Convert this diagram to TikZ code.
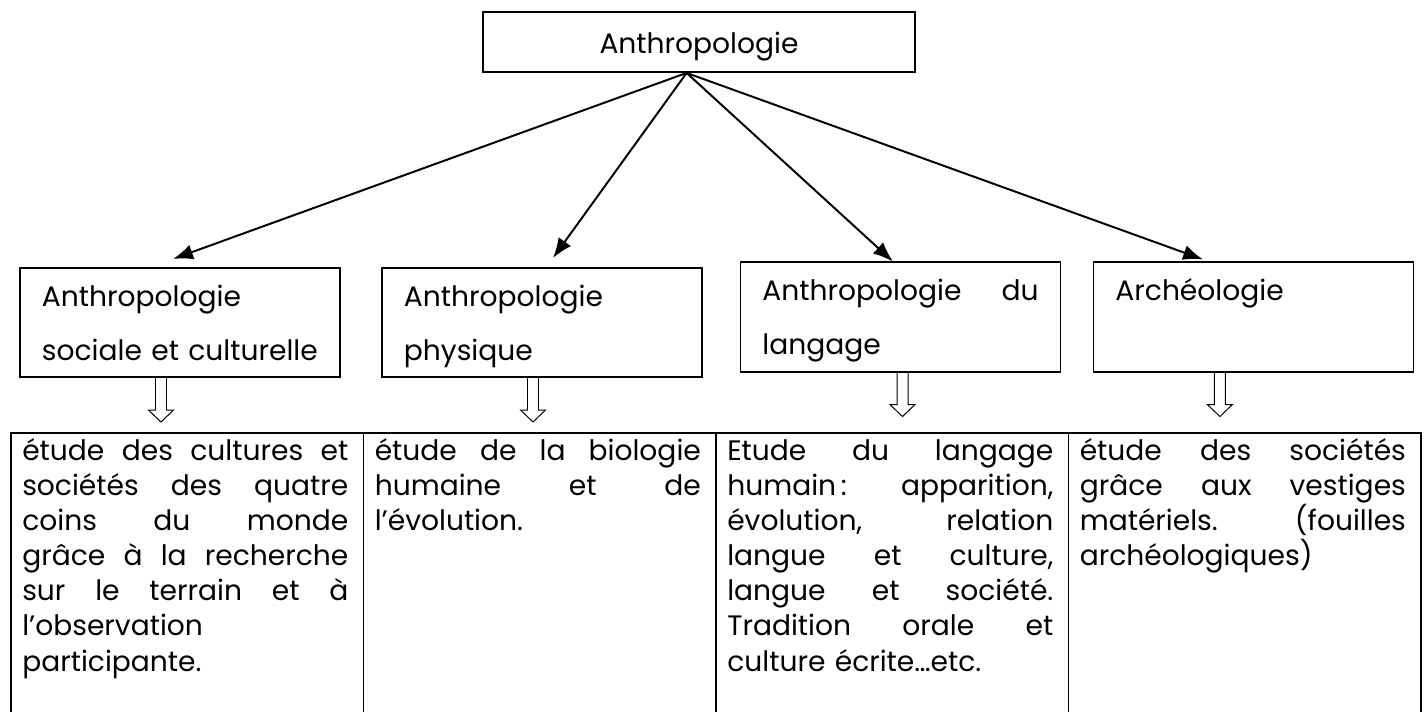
\documentclass[tikz,border=0pt]{standalone}
\usepackage{fontspec}
\setmainfont{Poppins}
\usetikzlibrary{arrows.meta}

\tikzstyle{titre}= [rectangle,draw,black,line width=1.3pt,minimum width=10.8cm,minimum height=1.5cm,font=\fontsize{20}{24}\selectfont,text height=0.6cm,text depth=0.05cm]
\tikzstyle{boite}= [rectangle,draw,black,line width=1.3pt,minimum width=8cm,minimum height=2.73cm,inner xsep=0.55cm,inner ysep=0pt,text width=6.9cm,align=left,font=\fontsize{20}{38.4}\selectfont,execute at begin node=\strut,execute at end node=\strut]
\tikzstyle{cellule}= [rectangle,draw,black,line width=1.3pt,minimum width=8.8125cm,minimum height=7.5cm,inner sep=0pt,anchor=north west]
\tikzstyle{texte}= [inner xsep=0.3cm,inner ysep=0.03cm,text width=8.15cm,align=left,anchor=north west,font=\fontsize{20}{25}\selectfont]
\tikzstyle{fleche}= [black,line width=1.4pt,-{Latex[length=0.5cm,width=0.38cm]}]
\tikzstyle{contour}= [black,line width=0.7pt]

% ligne justifiee a la main
\newcommand{\ligne}[2][8.15cm]{{\frenchspacing\spaceskip=0.28em plus 1fil\relax\xspaceskip=0.28em plus 1fil\relax\makebox[#1][s]{#2}}}
\newcommand{\doublefleche}[2]{\draw[contour] ([xshift=#2]#1.south) ++(-5.5,0) -- ++(0,32) -- ++(-7,0) -- ++(12.5,12) -- ++(12.5,-12) -- ++(-7,0) -- ++(0,-32);}

\begin{document}
\begin{tikzpicture}[x=0.025cm,y=-0.025cm]
		\clip (0,0) rectangle (1424,711);

		\node (anthropo) at (699,42) [titre] {Anthropologie};

		\node (sociale) at (180,322.5) [boite] {Anthropologie\\sociale et culturelle};
		\node (physique) at (542,322.5) [boite] {Anthropologie\\physique};
		\node (langage) at (900.5,317) [boite] {\ligne[6.9cm]{Anthropologie du}\\langage};
		\node (archeo) at (1253.5,317) [boite] {Archéologie\\\strut};

		\node (c1) at (10,432) [cellule] {};
		\node (c2) at (362.5,432) [cellule] {};
		\node (c3) at (715,432) [cellule] {};
		\node (c4) at (1067.5,432) [cellule] {};

		\node (t1) at (c1.north west) [texte] {\rule{0pt}{19pt}\ligne{étude des cultures et}\\
			\ligne{sociétés des quatre}\\
			\ligne{coins du monde}\\
			\ligne{grâce à la recherche}\\
			\ligne{sur le terrain et à}\\
			l’observation\\
			participante.};
		\node (t2) at (c2.north west) [texte] {\rule{0pt}{19pt}\ligne{étude de la biologie}\\
			\ligne{humaine et de}\\
			l’évolution.};
		\node (t3) at (c3.north west) [texte] {\rule{0pt}{19pt}\ligne{Etude du langage}\\
			\ligne{humain\,: apparition,}\\
			\ligne{évolution, relation}\\
			\ligne{langue et culture,}\\
			\ligne{langue et société.}\\
			\ligne{Tradition orale et}\\
			culture écrite…etc.};
		\node (t4) at (c4.north west) [texte] {\rule{0pt}{19pt}\ligne{étude des sociétés}\\
			\ligne{grâce aux vestiges}\\
			\ligne{matériels. (fouilles}\\
			archéologiques)};

		\path[fleche] ([xshift=-0.31cm]anthropo.south) edge[] ([xshift=-0.175cm,yshift=0.2cm]sociale.north);
		\path[fleche] ([xshift=-0.31cm]anthropo.south) edge[] ([xshift=0.275cm,yshift=0.225cm]physique.north);
		\path[fleche] ([xshift=-0.31cm]anthropo.south) edge[] ([xshift=-0.19cm]langage.north);
		\path[fleche] ([xshift=-0.31cm]anthropo.south) edge[] ([xshift=-1.26cm,yshift=0.05cm]archeo.north);

		\doublefleche{sociale}{-0.475cm}
		\doublefleche{physique}{-0.225cm}
		\doublefleche{langage}{0.05cm}
		\doublefleche{archeo}{-0.84cm}
\end{tikzpicture}
\end{document}
